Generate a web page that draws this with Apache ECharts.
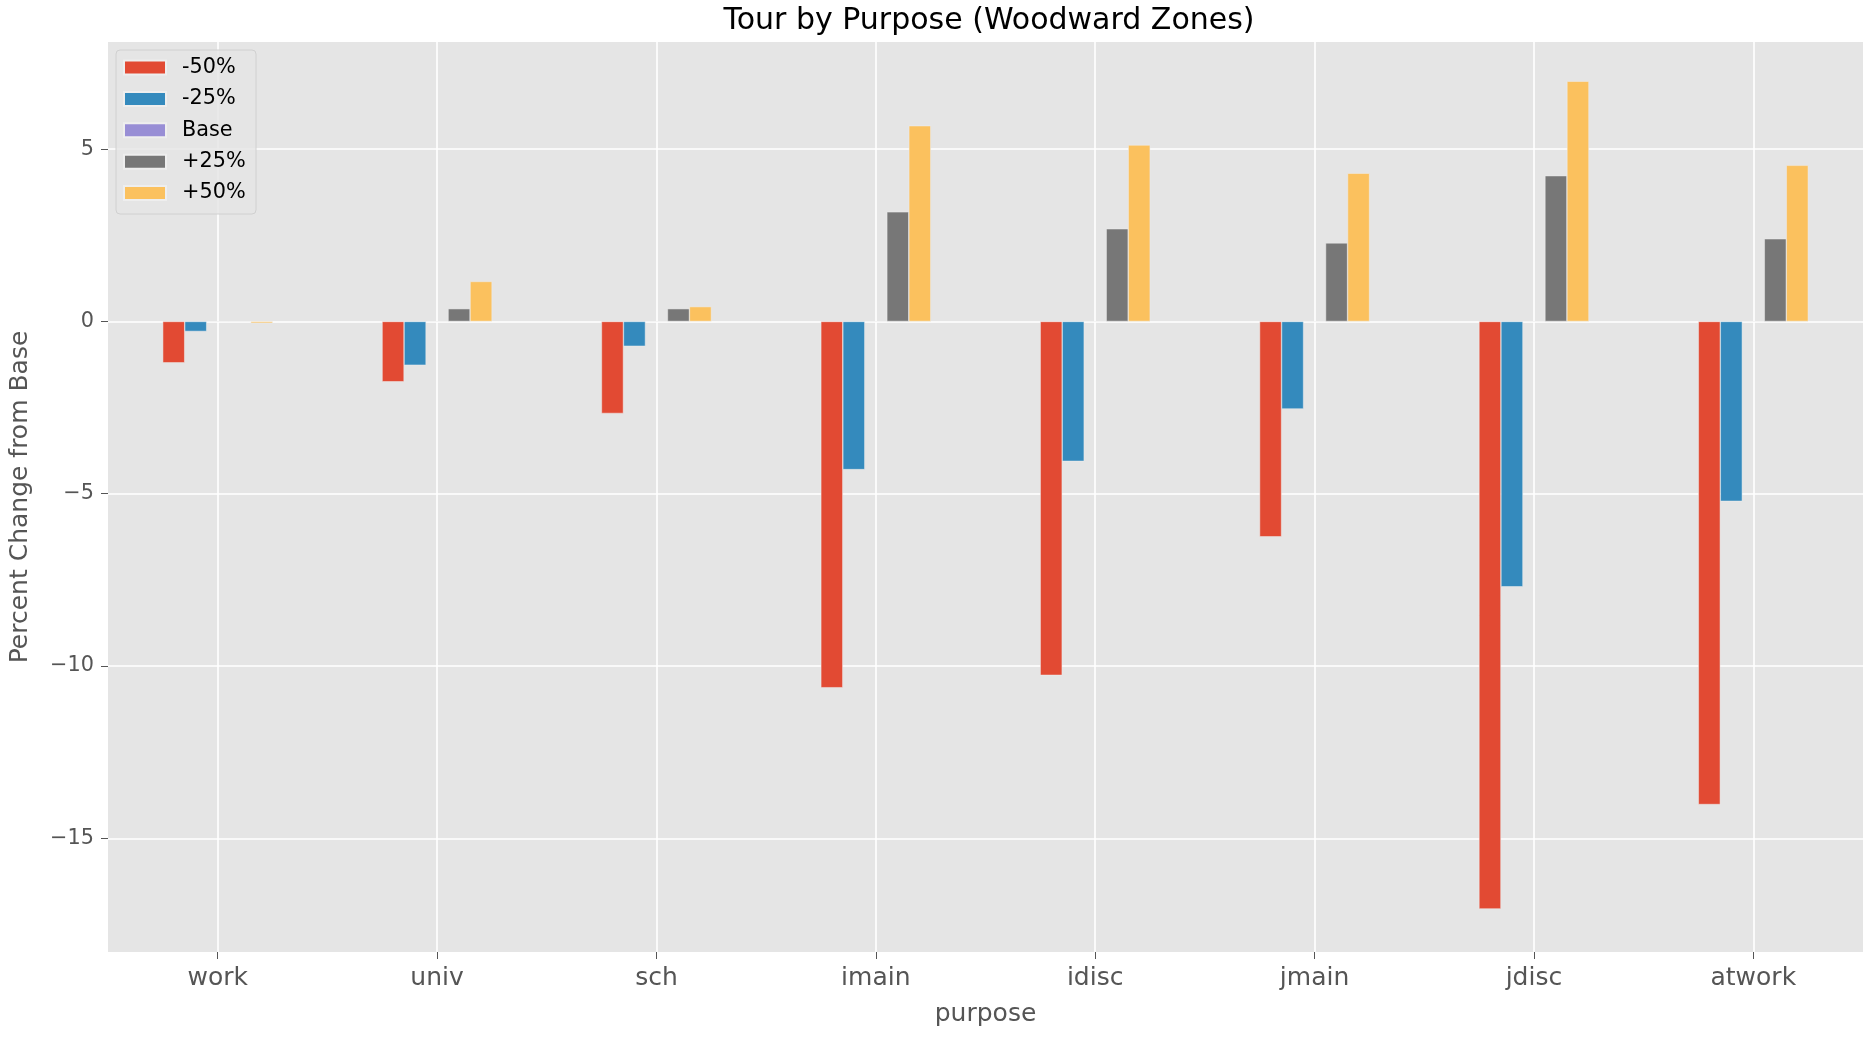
<!DOCTYPE html>
<html>
<head>
<meta charset="utf-8">
<script src="https://cdn.jsdelivr.net/npm/echarts@6/dist/echarts.min.js"></script>
<style>
html,body{margin:0;padding:0;background:#fff;}
#chart{width:1871px;height:1038px;}
</style>
</head>
<body>
<div id="chart"></div>
<script>
const categories = ['work', 'univ', 'sch', 'imain', 'idisc', 'jmain', 'jdisc', 'atwork'];
const seriesNames = ['-50%', '-25%', 'Base', '+25%', '+50%'];
const minus50 = [-1.20, -1.75, -2.67, -10.63, -10.27, -6.25, -17.05, -14.02];
const minus25 = [-0.29, -1.27, -0.72, -4.30, -4.06, -2.54, -7.70, -5.22];
const base    = [0, 0, 0, 0, 0, 0, 0, 0];
const plus25  = [0.0, 0.37, 0.37, 3.18, 2.69, 2.28, 4.23, 2.40];
const plus50  = [-0.05, 1.16, 0.43, 5.68, 5.12, 4.30, 6.97, 4.53];
const yTicks = [-15, -10, -5, 0, 5];

const colors = ['#E24A33', '#348ABD', '#988ED5', '#777777', '#FBC15E'];
const seriesData = [minus50, minus25, base, plus25, plus50];
const FONT = 'DejaVu Sans';

const chart = echarts.init(document.getElementById('chart'), null, {renderer: 'canvas'});
const fmtNum = v => (v < 0 ? '\u2212' + Math.abs(v) : String(v));

const option = {
  animation: false,
  backgroundColor: '#ffffff',
  title: {
    text: 'Tour by Purpose (Woodward Zones)',
    left: 984, top: 1, textAlign: 'center',
    textStyle: {fontFamily: FONT, fontSize: 30, fontWeight: 'normal', color: '#000000'}
  },
  graphic: [{
    type: 'rect', z: 3,
    shape: {x: 116, y: 50, width: 140, height: 164, r: 4},
    style: {fill: 'rgba(229,229,229,0.8)', stroke: '#D0D0D0', lineWidth: 1}
  }],
  legend: {
    orient: 'vertical', left: 123, top: 57, padding: 0, z: 5,
    itemWidth: 42, itemHeight: 14, itemGap: 10.4,
    icon: 'rect',
    data: seriesNames,
    textStyle: {fontFamily: FONT, fontSize: 20.8, color: '#000000', lineHeight: 21, padding: [0, 0, 0, 11]}
  },
  grid: {
    left: 105, right: 8, top: 42, bottom: 86,
    show: true, backgroundColor: '#E5E5E5', borderWidth: 0
  },
  xAxis: {
    type: 'category', data: categories,
    name: 'purpose', nameLocation: 'middle', nameGap: 50,
    nameTextStyle: {fontFamily: FONT, fontSize: 25, color: '#555555'},
    axisLine: {show: false, onZero: false},
    axisTick: {show: true, alignWithLabel: true, length: 7, lineStyle: {color: '#555555', width: 1}},
    axisLabel: {fontFamily: FONT, fontSize: 25, color: '#555555', margin: 14},
    splitLine: {show: true, alignWithLabel: true, lineStyle: {color: '#ffffff', width: 1.6}}
  },
  yAxis: {
    type: 'value', min: -18.3, max: 8.11, splitNumber: 5,
    name: 'Percent Change from Base', nameLocation: 'middle', nameGap: 75, nameRotate: 90,
    nameTextStyle: {fontFamily: FONT, fontSize: 25, color: '#555555'},
    axisLine: {show: false, onZero: false},
    axisTick: {show: true, length: 7, customValues: yTicks, lineStyle: {color: '#555555', width: 1}},
    axisLabel: {fontFamily: FONT, fontSize: 20.8, color: '#555555', margin: 14,
      customValues: yTicks, formatter: fmtNum},
    splitLine: {show: true, lineStyle: {color: '#ffffff', width: 1.6}}
  },
  series: seriesNames.map((name, i) => ({
    name: name, type: 'bar', data: seriesData[i],
    barWidth: 22, barGap: '0%',
    itemStyle: {color: colors[i], borderColor: '#EEEEEE', borderWidth: 0.5}
  }))
};
chart.setOption(option);
</script>
</body>
</html>
